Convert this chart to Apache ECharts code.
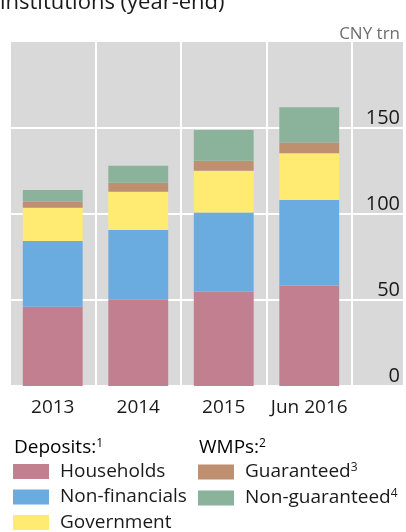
<!DOCTYPE html>
<html>
<head>
<meta charset="utf-8">
<script src="https://cdn.jsdelivr.net/npm/echarts@6/dist/echarts.min.js"></script>
<style>
    html, body { margin: 0; padding: 0; background: #fff; }
    #chart { width: 406px; height: 532px; }
</style>
</head>
<body>
<div id="chart"></div>
<script>
// values, CNY trn
const categories = ['2013', '2014', '2015', 'Jun 2016'];
const households = [46.1, 50.4, 54.8, 58.5];
const nonFinancials = [38.2, 40.3, 46.0, 49.6];
const government = [19.3, 22.3, 24.4, 27.2];
const guaranteed = [3.5, 5.2, 5.8, 6.2];
const nonGuaranteed = [6.9, 9.9, 17.8, 20.5];
const yTicks = { min: 0, max: 200, interval: 50 };

const font = '"Open Sans", "Noto Sans", sans-serif';
const ink = '#1a1a1a';
const white = { color: '#fff', width: 2 };

const supers = { 'Guaranteed': '3', 'Non-guaranteed': '4' };
const richText = {
    a: { fontSize: 19, fontFamily: font, color: ink, lineHeight: 20, padding: [0, 0, 0, 6] },
    b: { fontSize: 19, fontFamily: font, color: ink, lineHeight: 20 },
    s: { fontSize: 12, fontFamily: font, color: ink, lineHeight: 12, verticalAlign: 'top' }
};

function barSeries(name, data, color) {
    return {
        name: name,
        type: 'bar',
        stack: 'total',
        barCategoryGap: '30%',
        data: data,
        itemStyle: { color: color },
        emphasis: { disabled: true }
    };
}

function legendBox(names, left) {
    return {
        data: names,
        orient: 'vertical',
        left: left,
        top: 462,
        height: 90,
        padding: 0,
        icon: 'rect',
        itemWidth: 36,
        itemHeight: 15,
        itemGap: 6.5,
        selectedMode: false,
        formatter: function (name) {
            return supers[name] ? '{a|' + name + '}{s|' + supers[name] + '}' : '{a|' + name + '}';
        },
        textStyle: { rich: richText }
    };
}

const chart = echarts.init(document.getElementById('chart'));
chart.setOption({
    animation: false,
    backgroundColor: '#fff',
    grid: [
        { left: 10, right: 54, top: 42, bottom: 146, show: true, backgroundColor: '#D9D9D9', borderWidth: 0 },
        { left: 352, right: 3, top: 42, bottom: 146, show: true, backgroundColor: '#D9D9D9', borderWidth: 0 }
    ],
    xAxis: [{
        type: 'category',
        gridIndex: 0,
        data: categories,
        axisLine: { show: false },
        axisTick: { show: false },
        splitLine: { show: true, interval: 0, lineStyle: white },
        axisLabel: { interval: 0, fontSize: 19, fontFamily: font, color: ink, margin: 12 }
    }, {
        type: 'value',
        gridIndex: 1,
        min: 0,
        max: 1,
        show: false
    }],
    yAxis: [{
        type: 'value',
        gridIndex: 0,
        min: yTicks.min,
        max: yTicks.max,
        interval: yTicks.interval,
        axisLine: { show: false },
        axisTick: { show: false },
        axisLabel: { show: false },
        splitLine: { lineStyle: white, showMaxLine: false }
    }, {
        type: 'value',
        gridIndex: 1,
        position: 'right',
        min: yTicks.min,
        max: yTicks.max,
        interval: yTicks.interval,
        axisLine: { show: false },
        axisTick: { show: false },
        axisLabel: {
            inside: true, margin: 3, fontSize: 20, fontFamily: font, color: ink,
            verticalAlign: 'bottom', showMaxLabel: false
        },
        splitLine: { lineStyle: white, showMaxLine: false }
    }],
    legend: [
        legendBox(['Households', 'Non-financials', 'Government'], 13),
        legendBox(['Guaranteed', 'Non-guaranteed'], 198)
    ],
    graphic: [
        {
            type: 'text', x: 0, y: 3,
            style: { text: 'institutions (year-end)', font: '22px ' + font, fill: ink, verticalAlign: 'middle' }
        },
        {
            type: 'text', x: 400, y: 34,
            style: { text: 'CNY trn', font: '17px ' + font, fill: '#6d6d6d', align: 'right', verticalAlign: 'middle' }
        },
        {
            type: 'text', x: 14, y: 438,
            style: { text: '{b|Deposits:}{s|1}', rich: richText, verticalAlign: 'top' }
        },
        {
            type: 'text', x: 199, y: 438,
            style: { text: '{b|WMPs:}{s|2}', rich: richText, verticalAlign: 'top' }
        }
    ],
    series: [
        barSeries('Households', households, '#C27F8F'),
        barSeries('Non-financials', nonFinancials, '#6AACE0'),
        barSeries('Government', government, '#FFEA72'),
        barSeries('Guaranteed', guaranteed, '#BE9070'),
        barSeries('Non-guaranteed', nonGuaranteed, '#8BB29B')
    ]
});
</script>
</body>
</html>
